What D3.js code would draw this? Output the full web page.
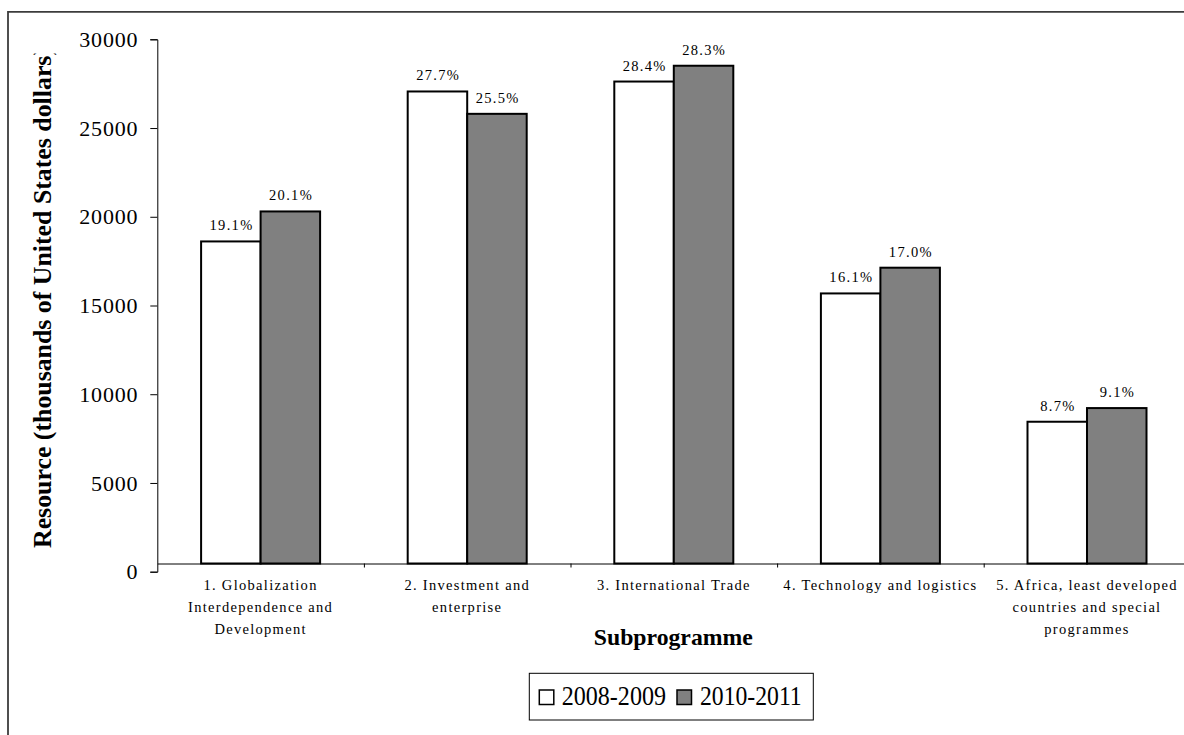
<!DOCTYPE html>
<html>
<head>
<meta charset="utf-8">
<script src="https://cdn.jsdelivr.net/npm/d3@7"></script>
<style>
  html, body { margin: 0; padding: 0; background: #fff; overflow: hidden; }
  svg { display: block; }
  text { font-family: "Liberation Serif", "Times New Roman", serif; fill: #000; }
</style>
</head>
<body>
<svg id="chart" width="1184" height="735"></svg>
<script>
// ---- data ----
const categories = [
  "1. Globalization Interdependence and Development",
  "2. Investment and enterprise",
  "3. International Trade",
  "4. Technology and logistics",
  "5. Africa, least developed countries and special programmes"
];
const categoryLines = [
  ["1. Globalization", "Interdependence and", "Development"],
  ["2. Investment and", "enterprise"],
  ["3. International Trade"],
  ["4. Technology and logistics"],
  ["5. Africa, least developed", "countries and special", "programmes"]
];
const seriesNames = ["2008-2009", "2010-2011"];
const values2008 = [18610, 27060, 27620, 15680, 8450];
const values2010 = [20300, 25800, 28510, 17130, 9220];
const pct2008 = ["19.1%", "27.7%", "28.4%", "16.1%", "8.7%"];
const pct2010 = ["20.1%", "25.5%", "28.3%", "17.0%", "9.1%"];
const yTicks = [0, 5000, 10000, 15000, 20000, 25000, 30000];
const yTitle = "Resource (thousands of United States dollars)";
const xTitle = "Subprogramme";

// ---- layout ----
const svg = d3.select("#chart");
const plotLeft = 157.3, plotRight = 1190.3;
const yTop = 39.3, yZero = 571.7;
const axisY = 563.5; // category axis line position
const fills = ["#ffffff", "#808080"];

const rows = categories.map((c, i) => ({
  cat: c, i,
  vals: [
    { s: 0, v: values2008[i], p: pct2008[i] },
    { s: 1, v: values2010[i], p: pct2010[i] }
  ]
}));

const x = d3.scaleBand().domain(categories).range([plotLeft, plotRight])
  .paddingInner(0.424).paddingOuter(0.212);
const xs = d3.scaleBand().domain([0, 1]).range([0, x.bandwidth()]);
const y = d3.scaleLinear().domain([0, 30000]).range([yZero, yTop]);

// outer frame (top & left edges visible)
svg.append("line").attr("x1", 8).attr("x2", 1200).attr("y1", 11.8).attr("y2", 11.8)
  .attr("stroke", "#3c3c3c").attr("stroke-width", 1.8);
svg.append("line").attr("x1", 8).attr("x2", 8).attr("y1", 11).attr("y2", 760)
  .attr("stroke", "#3c3c3c").attr("stroke-width", 1.8);

// y axis
const yAxis = d3.axisLeft(y).tickValues(yTicks).tickSize(7).tickPadding(12)
  .tickFormat(d3.format("d"));
const gy = svg.append("g").attr("transform", `translate(${plotLeft},0)`).call(yAxis);
gy.select(".domain").attr("stroke", "#000").attr("stroke-width", 1);
gy.selectAll(".tick line").attr("stroke", "#000");
gy.selectAll(".tick text").attr("font-size", 22).attr("letter-spacing", 0.8)
  .style("font-family", '"Liberation Serif", serif');

// x axis (category boundaries as ticks)
const xb = d3.scaleLinear().domain([0, categories.length]).range([plotLeft, plotRight]);
const xAxis = d3.axisBottom(xb).tickValues(d3.range(0, categories.length + 1))
  .tickSize(4).tickSizeOuter(0).tickFormat("");
const gx = svg.append("g").attr("transform", `translate(0,${axisY})`).call(xAxis);
gx.select(".domain").attr("stroke", "#000").attr("stroke-width", 1);
gx.selectAll(".tick line").attr("stroke", "#000");
gx.selectAll(".tick").filter(d => d === 0).remove();

// bars
const groups = svg.append("g").selectAll("g").data(rows).join("g")
  .attr("transform", d => `translate(${x(d.cat)},0)`);
groups.selectAll("rect").data(d => d.vals).join("rect")
  .attr("x", d => xs(d.s))
  .attr("width", xs.bandwidth())
  .attr("y", d => y(d.v))
  .attr("height", d => axisY - y(d.v))
  .attr("fill", d => fills[d.s])
  .attr("stroke", "#000").attr("stroke-width", 2);

groups.selectAll("text.pct").data(d => d.vals).join("text")
  .attr("class", "pct")
  .attr("x", d => xs(d.s) + xs.bandwidth() / 2 + 0.7)
  .attr("y", d => y(d.v) - 11)
  .attr("text-anchor", "middle")
  .attr("font-size", 14.5)
  .attr("letter-spacing", 1.3)
  .text(d => d.p);

// category labels
const labels = svg.append("g").selectAll("text").data(rows).join("text")
  .attr("text-anchor", "middle")
  .attr("font-size", 14.5)
  .attr("letter-spacing", 1.3);
labels.each(function (d) {
  const t = d3.select(this);
  categoryLines[d.i].forEach((ln, k) => {
    t.append("tspan")
      .attr("x", x(d.cat) + x.bandwidth() / 2)
      .attr("y", 590 + k * 22)
      .text(ln);
  });
});

// x title
svg.append("text")
  .attr("x", (plotLeft + plotRight) / 2 - 80)
  .attr("y", 645)
  .attr("font-size", 23).attr("font-weight", "bold")
  .attr("textLength", 159).attr("lengthAdjust", "spacingAndGlyphs")
  .text(xTitle);

// y title (rotated, top clipped like reference)
svg.append("clipPath").attr("id", "ytclip")
  .append("rect").attr("x", 0).attr("y", 53.5).attr("width", 100).attr("height", 600);
svg.append("g").attr("clip-path", "url(#ytclip)")
  .append("text")
  .attr("transform", "translate(51,548) rotate(-90)")
  .attr("x", 0).attr("y", 0)
  .attr("font-size", 25).attr("font-weight", "bold")
  .attr("textLength", 501).attr("lengthAdjust", "spacingAndGlyphs")
  .text(yTitle);

// legend
const lg = svg.append("g");
lg.append("rect").attr("x", 529.3).attr("y", 673.3).attr("width", 284).attr("height", 46.7)
  .attr("fill", "#fff").attr("stroke", "#000").attr("stroke-width", 1);
const legendItems = seriesNames.map((s, i) => ({ s, i }));
const legendSq = [539.3, 677];
const legendTx = [561.7, 700];
const legendLen = [104.3, 101.7];
lg.selectAll("rect.sw").data(legendItems).join("rect")
  .attr("class", "sw")
  .attr("x", d => legendSq[d.i]).attr("y", 690).attr("width", 14.5).attr("height", 14.5)
  .attr("fill", d => fills[d.i]).attr("stroke", "#000").attr("stroke-width", 1.5);
lg.selectAll("text").data(legendItems).join("text")
  .attr("x", d => legendTx[d.i]).attr("y", 705)
  .attr("font-size", 27)
  .attr("textLength", d => legendLen[d.i]).attr("lengthAdjust", "spacingAndGlyphs")
  .text(d => d.s);
</script>
</body>
</html>
